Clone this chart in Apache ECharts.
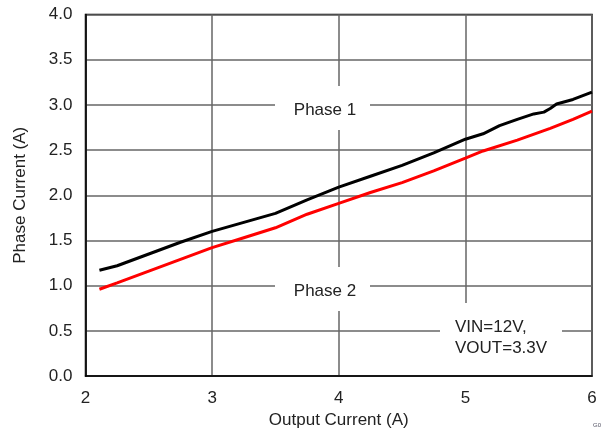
<!DOCTYPE html>
<html><head><meta charset="utf-8">
<script src="https://cdn.jsdelivr.net/npm/echarts@6/dist/echarts.min.js"></script>
<style>html,body{margin:0;padding:0;background:#fff}#c{width:608px;height:431px}</style>
</head><body><div id="c"></div>
<script>
var phase1X = [2.11,2.25,2.5,2.75,3,3.25,3.5,3.75,4,4.25,4.5,4.75,5,5.14,5.27,5.41,5.54,5.62,5.67,5.72,5.85,6];
var phase1Y = [1.17,1.22,1.35,1.48,1.60,1.70,1.80,1.95,2.09,2.21,2.33,2.47,2.62,2.68,2.77,2.84,2.90,2.92,2.96,3.01,3.06,3.14];
var phase2X = [2.11,2.25,2.5,2.75,3,3.25,3.5,3.75,4,4.25,4.5,4.75,5,5.14,5.41,5.67,5.85,6];
var phase2Y = [0.96,1.03,1.16,1.29,1.42,1.53,1.64,1.79,1.91,2.03,2.14,2.27,2.41,2.49,2.61,2.74,2.84,2.93];
var xTicks = [2,3,4,5,6];
var yTicks = ['0.0','0.5','1.0','1.5','2.0','2.5','3.0','3.5','4.0'];

function pairs(xs, ys){ return xs.map(function(x,i){return [x, ys[i]];}); }
var font = 'Liberation Sans, Arial, sans-serif';
var fs = 17;
var chart = echarts.init(document.getElementById('c'), null, {renderer:'canvas'});
chart.setOption({
  animation:false,
  grid:{left:85.5, top:14.5, right:16, bottom:55, show:true, borderColor:'#000', borderWidth:1.5, containLabel:false, outerBoundsMode:'none'},
  xAxis:{type:'value', min:2, max:6, interval:1,
    name:'Output Current (A)', nameLocation:'middle', nameGap:36,
    nameTextStyle:{fontFamily:font, fontSize:fs, color:'#222'},
    axisLine:{lineStyle:{color:'#000', width:1.5}}, axisTick:{show:false},
    axisLabel:{fontFamily:font, fontSize:fs, color:'#222', margin:14},
    splitLine:{show:true, lineStyle:{color:'#666', width:1.5}}},
  yAxis:{type:'value', min:0, max:4, interval:0.5,
    name:'Phase Current (A)', nameLocation:'middle', nameGap:57, nameRotate:90,
    nameTextStyle:{fontFamily:font, fontSize:fs, color:'#222'},
    axisLine:{lineStyle:{color:'#000', width:1.5}}, axisTick:{show:false},
    axisLabel:{fontFamily:font, fontSize:fs, color:'#222', margin:13,
      formatter:function(v){ return yTicks[Math.round(v/0.5)]; }},
    splitLine:{show:true, lineStyle:{color:'#666', width:1.5}}},
  series:[
    {name:'Phase 1', type:'line', data:pairs(phase1X, phase1Y), symbol:'none', lineStyle:{color:'#000', width:3}, z:3},
    {name:'Phase 2', type:'line', data:pairs(phase2X, phase2Y), symbol:'none', lineStyle:{color:'#ff0000', width:3}, z:3}
  ],
  graphic:[
    {type:'rect', shape:{x:275, y:86, width:95, height:44}, style:{fill:'#fff'}, z:1},
    {type:'text', x:325, y:110, style:{text:'Phase 1', font:fs+'px '+font, fill:'#222', align:'center', verticalAlign:'middle'}, z:5},
    {type:'rect', shape:{x:275, y:267, width:95, height:44}, style:{fill:'#fff'}, z:1},
    {type:'text', x:325, y:291, style:{text:'Phase 2', font:fs+'px '+font, fill:'#222', align:'center', verticalAlign:'middle'}, z:5},
    {type:'rect', shape:{x:440, y:303, width:122, height:72}, style:{fill:'#fff'}, z:1},
    {type:'text', x:455, y:327, style:{text:'VIN=12V,', font:fs+'px '+font, fill:'#222', align:'left', verticalAlign:'middle'}, z:5},
    {type:'text', x:455, y:348, style:{text:'VOUT=3.3V', font:fs+'px '+font, fill:'#222', align:'left', verticalAlign:'middle'}, z:5},
    {type:'text', x:597, y:425, style:{text:'G0', font:'6px '+font, fill:'#556', align:'center', verticalAlign:'middle'}, z:5}
  ]
});
</script></body></html>
